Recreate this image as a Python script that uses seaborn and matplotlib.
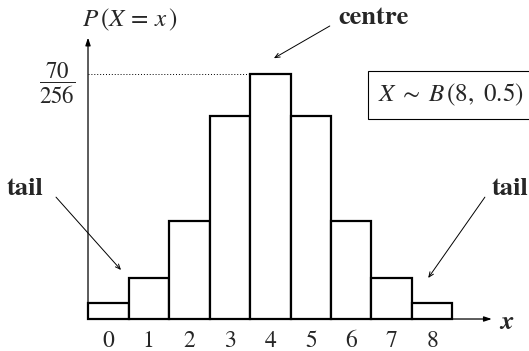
import matplotlib
matplotlib.use("Agg")
import matplotlib.pyplot as plt
import seaborn as sns
import pandas as pd

# Outcomes of X ~ B(8, 0.5) and the bar heights shown
outcomes = ["0", "1", "2", "3", "4", "5", "6", "7", "8"]
probs = [0.0184, 0.0458, 0.1097, 0.2266, 70 / 256, 0.2266, 0.1097, 0.0458, 0.0184]
peak_label = r"$\dfrac{70}{256}$"

sns.set_style("white")
plt.rcParams["font.family"] = ["STIXGeneral", "DejaVu Serif"]
plt.rcParams["mathtext.fontset"] = "stix"

df = pd.DataFrame({"x": outcomes, "p": probs})

fig = plt.figure(figsize=(5.29, 3.51), dpi=100)
ax = fig.add_axes([0, 0, 1, 1])
ax.set_facecolor("none")

sns.barplot(data=df, x="x", y="p", color="white", edgecolor="black",
            linewidth=1.6, width=1.0, saturation=1, ax=ax)

ax.set_xlim(-2.673, 10.389)
ax.set_ylim(-0.0357, 0.356)

# Axis geometry: origin at the left edge of the first bar
x0 = -0.5
for side in ("top", "right"):
    ax.spines[side].set_visible(False)
ax.spines["bottom"].set_position(("data", 0))
ax.spines["left"].set_position(("data", x0))
ax.spines["bottom"].set_color("none")
ax.spines["left"].set_color("none")

ax.set_xlabel("")
ax.set_ylabel("")
ax.tick_params(axis="x", length=0, pad=8, labelsize=17)
ax.set_yticks([70 / 256])
ax.set_yticklabels([peak_label])
ax.tick_params(axis="y", length=0, pad=9, labelsize=16.5)

# Arrowed axes
ax.annotate("", xy=(9.47, 0), xytext=(x0, 0),
            arrowprops=dict(arrowstyle="-|>,head_length=0.45,head_width=0.15",
                            lw=0.9, color="black", shrinkA=0, shrinkB=0))
ax.annotate("", xy=(x0, 0.314), xytext=(x0, 0),
            arrowprops=dict(arrowstyle="-|>,head_length=0.45,head_width=0.15",
                            lw=0.9, color="black", shrinkA=0, shrinkB=0))

# Dotted guide at the peak probability
ax.hlines(70 / 256, x0, 3.5, colors="black", linestyles=(0, (1, 2)), lw=0.7)

# Axis titles
ax.text(0.53, 0.3337, r"$P\,(X\,=\,x\,)$", ha="center", va="center", fontsize=18)
ax.text(9.85, -0.0033, "x", ha="center", va="center", fontsize=19,
        fontstyle="italic", fontweight="bold")

# Distribution label
ax.text(8.47, 0.25, r"$X\;\sim\;B\,(8,\ 0.5)$", ha="center", va="center",
        fontsize=18,
        bbox=dict(boxstyle="square,pad=0.42", fc="white", ec="black", lw=0.8))

# Annotations: centre and tails
arrow_kw = dict(arrowstyle="->,head_length=0.35,head_width=0.15", lw=0.7,
                color="black", shrinkA=0, shrinkB=0)
ax.text(6.56, 0.336, "centre", ha="center", va="center", fontsize=19,
        fontweight="bold")
ax.annotate("", xy=(4.09, 0.291), xytext=(5.47, 0.327), arrowprops=arrow_kw)

ax.text(-2.06, 0.145, "tail", ha="center", va="center", fontsize=19,
        fontweight="bold")
ax.annotate("", xy=(0.315, 0.0547), xytext=(-1.29, 0.136), arrowprops=arrow_kw)

ax.text(9.92, 0.145, "tail", ha="center", va="center", fontsize=19,
        fontweight="bold")
ax.annotate("", xy=(7.9, 0.0458), xytext=(9.30, 0.136), arrowprops=arrow_kw)

fig.savefig("out.png", dpi=100)
